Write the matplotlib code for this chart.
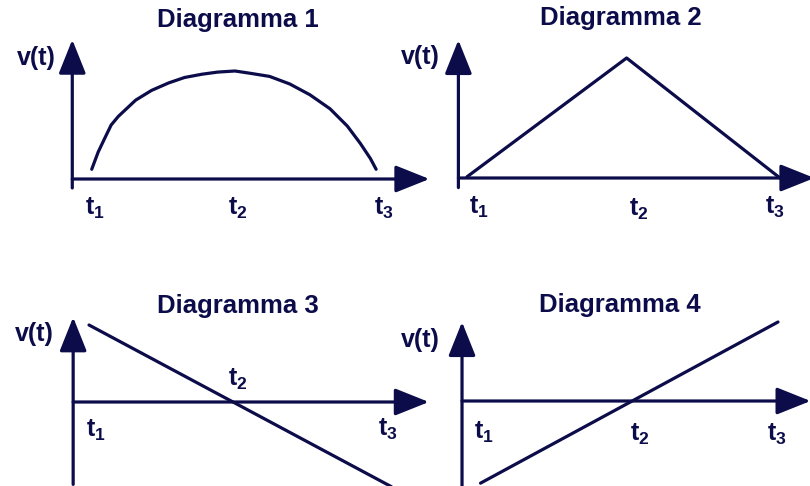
import matplotlib.pyplot as plt

plt.rcParams['font.family'] = ['Liberation Sans', 'DejaVu Sans']
plt.rcParams['mathtext.fontset'] = 'custom'
plt.rcParams['mathtext.bf'] = 'Liberation Sans:bold'
plt.rcParams['mathtext.rm'] = 'Liberation Sans:bold'
plt.rcParams['mathtext.it'] = 'Liberation Sans:bold'

navy = '#0c0c4a'

titles = ['Diagramma 1', 'Diagramma 2', 'Diagramma 3', 'Diagramma 4']
tick_names = [r'$\mathbf{t_1}$', r'$\mathbf{t_2}$', r'$\mathbf{t_3}$']
ylabel = 'v(t)'

# curves (t1=0, t2=1, t3=2)
t_d1 = [0.005, 0.05, 0.10, 0.14, 0.19, 0.31, 0.42, 0.54, 0.65, 0.77, 0.88, 1.0,
        1.10, 1.24, 1.38, 1.52, 1.66, 1.78, 1.87, 1.94, 1.98]
v_d1 = [0.09, 0.25, 0.39, 0.50, 0.58, 0.73, 0.82, 0.89, 0.94, 0.97, 0.99, 1.0,
        0.98, 0.95, 0.88, 0.78, 0.65, 0.49, 0.33, 0.19, 0.09]
t_d2 = [0.0, 1.02, 2.0]
v_d2 = [0.01, 1.0, 0.0]
t_d3 = [0.0, 2.1]
v_d3 = [1.0, -1.1]
t_d4 = [-0.01, 2.0]
v_d4 = [-1.04, 1.0]
series = [(t_d1, v_d1), (t_d2, v_d2), (t_d3, v_d3), (t_d4, v_d4)]

W, H = 810, 486

# layout per panel, in pixels: origin of (t=0, v=0), px per unit t and v,
# y-axis x-pos (in t), y-axis bottom/top (v), x-axis tip (t),
# tick label centres, v(t) label centre, title centre
panels = [
    dict(x0=91, y0=179, sx=144, sy=108, yax=-0.13, ybot=-0.083, ytop=1.29, xtip=2.35,
         labs=[(95, 208), (238, 208), (384, 208)], vlab=(36, 58), title=(238, 20)),
    dict(x0=467, y0=178, sx=156.5, sy=120, yax=-0.055, ybot=-0.08, ytop=1.15, xtip=2.22,
         labs=[(479, 207), (639, 209), (775, 207)], vlab=(420, 57), title=(621, 18)),
    dict(x0=89, y0=402, sx=144, sy=77, yax=-0.11, ybot=-1.07, ytop=1.1, xtip=2.36,
         labs=[(96, 430), (238, 379), (388, 429)], vlab=(34, 334), title=(238, 306)),
    dict(x0=482, y0=401, sx=148, sy=79, yax=-0.135, ybot=-1.1, ytop=1.0, xtip=2.22,
         labs=[(484, 432), (640, 434), (777, 434)], vlab=(420, 340), title=(620, 305)),
]

fig = plt.figure(figsize=(8.1, 4.86), dpi=100)
fig.patch.set_facecolor('white')

for (t, v), title, p in zip(series, titles, panels):
    # axes covering the whole figure, with limits set so data maps to pixels
    ax = fig.add_axes([0, 0, 1, 1])
    ax.set_xlim((0 - p['x0']) / p['sx'], (W - p['x0']) / p['sx'])
    ax.set_ylim((p['y0'] - H) / p['sy'], p['y0'] / p['sy'])
    ax.axis('off')
    ax.patch.set_alpha(0)

    ax.plot(t, v, color=navy, lw=2.3, solid_capstyle='round',
            solid_joinstyle='round')

    arrow = dict(arrowstyle='-|>,head_length=1.05,head_width=0.42', color=navy,
                 lw=2.3, mutation_scale=20, shrinkA=0, shrinkB=0)
    ax.annotate('', xy=(p['yax'], p['ytop']), xytext=(p['yax'], p['ybot']),
                arrowprops=arrow, annotation_clip=False)
    ax.annotate('', xy=(p['xtip'], 0), xytext=(p['yax'], 0), arrowprops=arrow,
                annotation_clip=False)

    for name, (lx, ly) in zip(tick_names, p['labs']):
        fig.text(lx / W, 1 - ly / H, name, color=navy, fontsize=18,
                 ha='center', va='center')
    fig.text(p['vlab'][0] / W, 1 - p['vlab'][1] / H, ylabel, color=navy,
             fontsize=18, fontweight='bold', ha='center', va='center')
    fig.text(p['title'][0] / W, 1 - p['title'][1] / H, title, color=navy,
             fontsize=18.5, fontweight='bold', ha='center', va='center')

fig.savefig('out.png', dpi=100, facecolor='white')
